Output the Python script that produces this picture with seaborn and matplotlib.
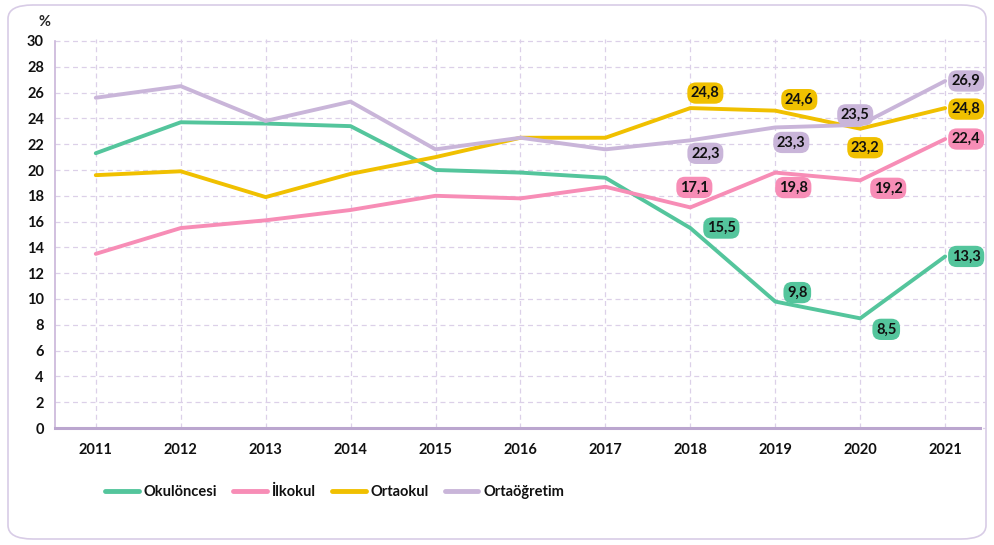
import numpy as np
import pandas as pd
import matplotlib
matplotlib.use("Agg")
import matplotlib.pyplot as plt
from matplotlib.patches import FancyBboxPatch
import seaborn as sns

years = [2011, 2012, 2013, 2014, 2015, 2016, 2017, 2018, 2019, 2020, 2021]
okuloncesi = [21.3, 23.7, 23.6, 23.4, 20.0, 19.8, 19.4, 15.5, 9.8, 8.5, 13.3]
ilkokul = [13.5, 15.5, 16.1, 16.9, 18.0, 17.8, 18.7, 17.1, 19.8, 19.2, 22.4]
ortaokul = [19.6, 19.9, 17.9, 19.7, 21.0, 22.5, 22.5, 24.8, 24.6, 23.2, 24.8]
ortaogretim = [25.6, 26.5, 23.8, 25.3, 21.6, 22.5, 21.6, 22.3, 23.3, 23.5, 26.9]

series_names = ["Okulöncesi", "İlkokul", "Ortaokul", "Ortaöğretim"]
colors = ["#54C59C", "#F78DB6", "#F0C000", "#C9B5D9"]
yticks = list(range(0, 31, 2))

# label offsets in pixels (dx, dy) per series for years 2018-2021
label_offsets = {
    "Okulöncesi": [(31, 0), (22, 9), (26, -11), (21, 0)],
    "İlkokul": [(4, 20), (18, -15), (28, -8), (21, 0)],
    "Ortaokul": [(15, 15), (24, 11), (5, -19), (21, -1)],
    "Ortaöğretim": [(15, -13), (16, -15), (-5, 10), (21, 0)],
}

df = pd.DataFrame({"Yıl": years * 4,
                   "Değer": okuloncesi + ilkokul + ortaokul + ortaogretim,
                   "Seri": np.repeat(series_names, len(years))})

sns.set_style("white")
plt.rcParams['font.family'] = ['Lato', 'DejaVu Sans']

fig = plt.figure(figsize=(9.94, 5.45), dpi=100)
ax = fig.add_axes([55 / 994, 1 - 428 / 545, (980 - 55) / 994, (428 - 41) / 545])

grid_col = "#DCD0E8"
for yv in yticks:
    ax.axhline(yv, color=grid_col, lw=0.9, ls=(0, (4, 3)), zorder=0, clip_on=False,
               xmax=1.005)
for xv in years:
    ax.axvline(xv, color=grid_col, lw=0.9, ls=(0, (4, 3)), zorder=0, ymax=1.005, clip_on=False)

sns.lineplot(data=df, x="Yıl", y="Değer", hue="Seri", palette=colors, lw=2.8,
             ax=ax, legend=False, zorder=3)

ax.set_xlim(2010.52, 2021.41)
ax.set_ylim(0, 30)
ax.set_xticks(years)
ax.set_yticks(yticks)
ax.set_xlabel("")
ax.set_ylabel("")
ax.tick_params(axis="both", length=0, labelsize=10.5, colors="#111111")
ax.tick_params(axis="x", pad=11)
ax.tick_params(axis="y", pad=8)
for lab in ax.get_xticklabels() + ax.get_yticklabels():
    lab.set_fontweight("bold")
for s in ["top", "right"]:
    ax.spines[s].set_visible(False)
ax.spines["left"].set_color("#C9B5D9")
ax.spines["left"].set_linewidth(1.2)
ax.spines["bottom"].set_color("#BBA6CF")
ax.spines["bottom"].set_linewidth(2.2)
ax.text(-0.005, 1.03, "%", transform=ax.transAxes, ha="right", va="bottom",
        fontsize=10.5, fontweight="bold")

# value labels
all_vals = [okuloncesi, ilkokul, ortaokul, ortaogretim]
for name, vals, col in zip(series_names, all_vals, colors):
    for i, yr in enumerate(years[-4:]):
        v = vals[len(years) - 4 + i]
        dx, dy = label_offsets[name][i]
        ax.annotate(f"{v:.1f}".replace(".", ","), (yr, v), xytext=(dx * 0.72, dy * 0.72),
                    textcoords="offset points", ha="center", va="center",
                    fontsize=10.5, fontweight="bold", color="#111111", zorder=5,
                    bbox=dict(boxstyle="round,pad=0.25,rounding_size=0.6",
                              fc=col, ec="none"))

# legend
handles = [plt.Line2D([0], [0], color=c, lw=3.5, solid_capstyle="round") for c in colors]
leg = fig.legend(handles, series_names, loc="center left",
                 bbox_to_anchor=(92 / 994, 1 - 492 / 545),
                 ncol=4, frameon=False, fontsize=10.5, handlelength=2.3,
                 handletextpad=0.35, columnspacing=1.1)
for t in leg.get_texts():
    t.set_fontweight("bold")
    t.set_color("#111111")

# rounded frame
frame = FancyBboxPatch((8 / 994, 6 / 545), 978 / 994, 534 / 545,
                       boxstyle="round,pad=0,rounding_size=0.025",
                       transform=fig.transFigure, fc="none", ec="#D8CCE6", lw=1.2)
fig.patches.append(frame)

fig.savefig("out.png", dpi=100)
